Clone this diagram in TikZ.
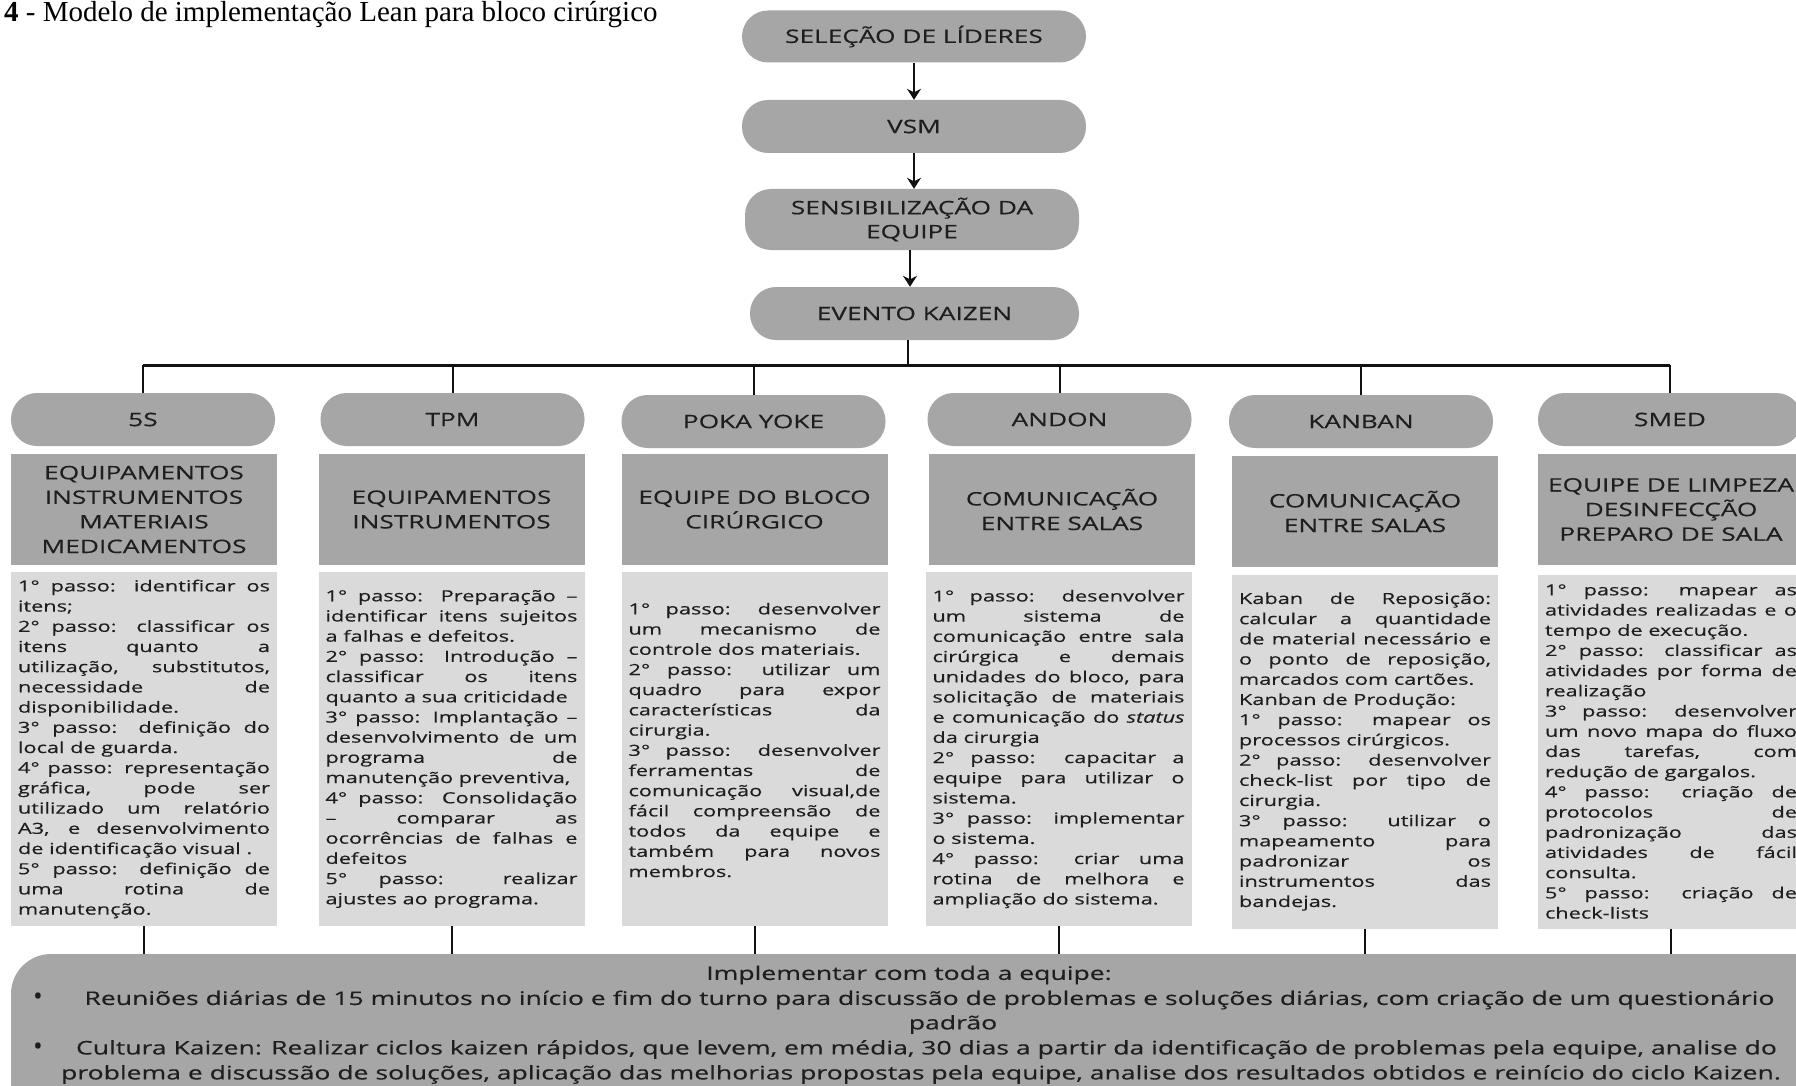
\documentclass[tikz,border=0pt]{standalone}
\usepackage{fontspec}
\setmainfont{Liberation Serif}
\newfontfamily\osf[FakeStretch=1.42,FakeBold=0.35]{Open Sans}
\newfontfamily\osb{Open Sans}
\usetikzlibrary{arrows.meta}
\definecolor{midgray}{HTML}{A6A6A6}
\definecolor{litegray}{HTML}{DADADA}
\definecolor{inkc}{HTML}{1E1E1E}
\definecolor{linec}{HTML}{111111}
\begin{document}
\begin{tikzpicture}[x=1pt,y=-1pt,
 every node/.style={text=inkc},
 pill/.style={fill=midgray, rounded corners=26pt, inner sep=0pt, align=center, font=\osf\fontsize{18.5}{24}\selectfont},
 hdr/.style={fill=midgray, minimum width=266pt, minimum height=111pt, inner sep=0pt, align=center, font=\osf\fontsize{18.5}{24.6}\selectfont},
 body/.style={fill=litegray, text width=252pt, inner xsep=7pt, inner ysep=0pt, minimum height=354pt, align=justify, font=\osf\fontsize{15.3}{20.2}\selectfont, execute at begin node={\tolerance=10000\pretolerance=-1\hyphenpenalty=10000\exhyphenpenalty=10000\parindent=0pt}},
 conn/.style={draw=linec, line width=2pt},
 arr/.style={conn, line width=2.4pt, -{Stealth[length=11pt,width=14pt]}},
 btxt/.style={font=\osf\fontsize{18.7}{25}\selectfont, inner sep=0pt},
 dot/.style={font=\osb\fontsize{26}{26}\selectfont, inner sep=0pt}
]
\useasboundingbox (0,0) rectangle (1796,1086);
\clip (0,0) rectangle (1796,1086);
\fill[white] (0,0) rectangle (1796,1086);

% title
\node[anchor=west, inner sep=0pt, text=black, font=\fontsize{29}{34}\selectfont] (title) at (4,15) {\textbf{4} - Modelo de implementação Lean para bloco cirúrgico};

% top chain
\node[pill, minimum width=344pt, minimum height=52pt] (s1) at (914,36.5) {SELEÇÃO DE LÍDERES};
\node[pill, minimum width=344pt, minimum height=53pt] (s2) at (914,126.5) {VSM};
\node[pill, minimum width=334pt, minimum height=61pt] (s3) at (912,219.5) {SENSIBILIZAÇÃO DA\\EQUIPE};
\node[pill, minimum width=329pt, minimum height=53pt] (s4) at (914.5,313.5) {EVENTO KAIZEN};
\draw[arr] (s1.south) -- (s2.north);
\draw[arr] (s2.south) -- (s2.south |- s3.north);
\draw[arr] ([xshift=-2pt]s3.south) -- ([xshift=-2pt]s3.south |- s4.north);

% column pills
\node[pill, minimum width=264pt, minimum height=53pt] (c1) at (143,419.5) {5S};
\node[pill, minimum width=264pt, minimum height=53pt] (c2) at (452.5,419.5) {TPM};
\node[pill, minimum width=264pt, minimum height=53pt] (c3) at (753.5,421.5) {POKA YOKE};
\node[pill, minimum width=264pt, minimum height=53pt] (c4) at (1059.5,419.5) {ANDON};
\node[pill, minimum width=264pt, minimum height=53pt] (c5) at (1361,421.5) {KANBAN};
\node[pill, minimum width=264pt, minimum height=53pt] (c6) at (1670,419.5) {SMED};

% bus
\coordinate (bus) at (907,365);
\draw[conn] ([xshift=-7pt]s4.south) -- ([xshift=-7pt]s4.south |- bus);
\draw[draw=linec, line width=3pt] (c1.north |- bus) -- (c6.north |- bus);
\foreach \c in {c1,c2,c3,c4,c5,c6}{
  \draw[conn] (\c.north |- bus) -- (\c.north);
}

% headers
\node[hdr] (h1) at (144,509.5) {EQUIPAMENTOS\\INSTRUMENTOS\\MATERIAIS\\MEDICAMENTOS};
\node[hdr] (h2) at (451.5,509.5) {EQUIPAMENTOS\\INSTRUMENTOS};
\node[hdr] (h3) at (754.5,509.5) {EQUIPE DO BLOCO\\CIRÚRGICO};
\node[hdr] (h4) at (1062,509.5) {COMUNICAÇÃO\\ENTRE SALAS};
\node[hdr] (h5) at (1365,511.5) {COMUNICAÇÃO\\ENTRE SALAS};
\node[hdr] (h6) at (1671,509.5) {EQUIPE DE LIMPEZA\\DESINFECÇÃO\\PREPARO DE SALA};

% bodies
\node[body] (b1) at (144,749) {1° passo: identificar os \linebreak itens;\par
2° passo: classificar os \linebreak itens quanto a \linebreak utilização, substitutos, \linebreak necessidade de \linebreak disponibilidade.\par
3° passo: definição do \linebreak local de guarda.\par
4° passo: representação \linebreak gráfica, pode ser \linebreak utilizado um relatório \linebreak A3, e desenvolvimento \linebreak de identificação visual .\par
5° passo: definição de \linebreak uma rotina de \linebreak manutenção.};

\node[body] (b2) at (451.5,749) {1° passo: Preparação – \linebreak identificar itens sujeitos \linebreak a falhas e defeitos.\par
2° passo: Introdução – \linebreak classificar os itens \linebreak quanto a sua criticidade\par
3° passo: Implantação – \linebreak desenvolvimento de um \linebreak programa de \linebreak manutenção preventiva,\par
4° passo: Consolidação \linebreak – comparar as \linebreak ocorrências de falhas e \linebreak defeitos\par
5° passo: realizar \linebreak ajustes ao programa.};

\node[body] (b3) at (754.5,749) {1° passo: desenvolver \linebreak um mecanismo de \linebreak controle dos materiais.\par
2° passo: utilizar um \linebreak quadro para expor \linebreak características da \linebreak cirurgia.\par
3° passo: desenvolver \linebreak ferramentas de \linebreak comunicação visual,de \linebreak fácil compreensão de \linebreak todos da equipe e \linebreak também para novos \linebreak membros.\par\vspace{18pt}};

\node[body] (b4) at (1058.5,749) {1° passo: desenvolver \linebreak um sistema de \linebreak comunicação entre sala \linebreak cirúrgica e demais \linebreak unidades do bloco, para \linebreak solicitação de materiais \linebreak e comunicação do \textit{status} \linebreak da cirurgia\par
2° passo: capacitar a \linebreak equipe para utilizar o \linebreak sistema.\par
3° passo: implementar \linebreak o sistema.\par
4° passo: criar uma \linebreak rotina de melhora e \linebreak ampliação do sistema.};

\node[body] (b5) at (1365,751.5) {Kaban de Reposição: \linebreak calcular a quantidade \linebreak de material necessário e \linebreak o ponto de reposição, \linebreak marcados com cartões.\par
Kanban de Produção:\par
1° passo: mapear os \linebreak processos cirúrgicos.\par
2° passo: desenvolver \linebreak check-list por tipo de \linebreak cirurgia.\par
3° passo: utilizar o \linebreak mapeamento para \linebreak padronizar os \linebreak instrumentos das \linebreak bandejas.};

\node[body] (b6) at (1671,751.5) {1° passo: mapear as \linebreak atividades realizadas e o \linebreak tempo de execução.\par
2° passo: classificar as \linebreak atividades por forma de \linebreak realização\par
3° passo: desenvolver \linebreak um novo mapa do fluxo \linebreak das tarefas, com \linebreak redução de gargalos.\par
4° passo: criação de \linebreak protocolos de \linebreak padronização das \linebreak atividades de fácil \linebreak consulta.\par
5° passo: criação de \linebreak check-lists};

% bottom box
\node[fill=midgray, rounded corners=40pt, minimum width=1828pt, minimum height=182pt, inner sep=0pt] (impl) at (925,1045) {};
\foreach \b in {b1,b2,b3,b4,b5,b6}{
  \draw[conn] (\b.south) -- (\b.south |- impl.north);
}
\node[btxt] (t0) at (909,975) {Implementar com toda a equipe:};
\node[dot] (d1) at (38,999) {•};
\node[btxt] (t1) at (929.5,1000) {Reuniões diárias de 15 minutos no início e fim do turno para discussão de problemas e soluções diárias, com criação de um questionário};
\node[btxt] (t2) at (953,1024.5) {padrão};
\node[dot] (d2) at (38,1049) {•};
\node[btxt] (t3) at (926.5,1049.5) {Cultura Kaizen: Realizar ciclos kaizen rápidos, que levem, em média, 30 dias a partir da identificação de problemas pela equipe, analise do};
\node[btxt] (t4) at (921,1074.5) {problema e discussão de soluções, aplicação das melhorias propostas pela equipe, analise dos resultados obtidos e reinício do ciclo Kaizen.};
\end{tikzpicture}
\end{document}
